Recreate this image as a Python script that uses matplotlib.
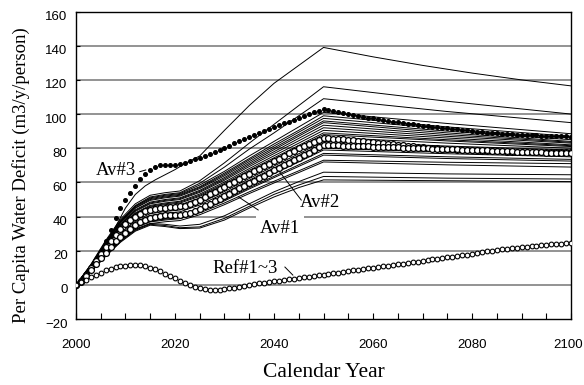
import numpy as np
import matplotlib
matplotlib.use("Agg")
import matplotlib.pyplot as plt
from matplotlib.transforms import ScaledTranslation

plt.rcParams['font.family'] = ['Liberation Sans', 'DejaVu Sans']

years = np.arange(2000, 2101)

# marker series, one value per year 2000..2100
av3 = [0, 3, 6.5, 10.5, 15, 20, 25.5, 32, 39, 45,
       50, 54, 58, 62, 65, 67.5, 69, 70, 70.5, 70.5,
       70.5, 71, 71.5, 72.5, 73.5, 74.5, 75.5, 76.7, 78, 79.2,
       80.4, 81.6, 82.8, 84, 85.2, 86.4, 87.6, 88.8, 90, 91.2,
       92.3, 93.4, 94.5, 95.6, 96.7, 97.8, 98.9, 100, 101, 102,
       103, 102.4, 101.8, 101.2, 100.6, 100, 99.5, 99, 98.5, 98,
       97.5, 97, 96.5, 96, 95.6, 95.2, 94.8, 94.4, 94, 93.6,
       93.2, 92.8, 92.5, 92.2, 91.9, 91.6, 91.3, 91, 90.7, 90.4,
       90.1, 89.8, 89.5, 89.2, 89, 88.8, 88.6, 88.4, 88.2, 88,
       87.8, 87.7, 87.6, 87.5, 87.4, 87.3, 87.2, 87.1, 87, 86.9,
       86.8]

av2 = [0, 2.5, 6, 10, 14, 18, 22, 26, 29.5, 32.5,
       35.5, 38, 40, 41.5, 43, 44, 44.5, 45, 45.3, 45.5,
       45.7, 46, 46.5, 47.5, 48.5, 50, 51.5, 53, 54.5, 56,
       57.5, 59, 60.5, 62, 63.5, 65, 66.5, 68, 69.5, 71,
       72.5, 74, 75.5, 77, 78.5, 80, 81.2, 82.4, 83.6, 84.8,
       86, 85.8, 85.6, 85.4, 85.2, 85, 84.7, 84.4, 84.1, 83.8,
       83.5, 83.2, 82.9, 82.6, 82.3, 82, 81.7, 81.4, 81.1, 80.8,
       80.6, 80.4, 80.2, 80, 79.8, 79.6, 79.4, 79.2, 79, 78.9,
       78.8, 78.7, 78.6, 78.5, 78.4, 78.3, 78.2, 78.1, 78, 78,
       78, 78, 78, 77.9, 77.9, 77.9, 77.9, 77.8, 77.8, 77.8,
       77.8]

av1 = [0, 2, 5, 8.5, 12, 15.5, 19, 22.5, 25.5, 28,
       30.5, 33, 35, 36.7, 38.2, 39.3, 40, 40.5, 40.8, 41,
       41, 41.2, 41.5, 42.3, 43.3, 44.5, 46, 47.5, 49, 50.5,
       52, 53.5, 55, 56.5, 58, 59.5, 61, 62.5, 64, 65.5,
       67, 68.5, 70, 71.5, 73, 74.5, 76, 77.5, 79, 80.5,
       82, 81.9, 81.8, 81.7, 81.6, 81.5, 81.4, 81.3, 81.2, 81.1,
       81, 80.9, 80.8, 80.7, 80.6, 80.5, 80.4, 80.3, 80.2, 80.1,
       80, 79.9, 79.8, 79.7, 79.6, 79.5, 79.4, 79.3, 79.2, 79.1,
       79, 78.9, 78.8, 78.7, 78.6, 78.5, 78.4, 78.3, 78.2, 78.1,
       78, 77.9, 77.8, 77.7, 77.6, 77.5, 77.4, 77.3, 77.2, 77.1,
       77]

ref = [0, 1.5, 3, 4.5, 6, 7.3, 8.5, 9.5, 10.3, 11,
       11.4, 11.7, 11.8, 11.6, 11, 10.2, 9.2, 8, 6.7, 5.3,
       3.8, 2.3, 0.9, -0.3, -1.3, -2, -2.5, -2.8, -2.9, -2.7,
       -2.4, -2, -1.6, -1.1, -0.6, -0.1, 0.4, 0.9, 1.3, 1.7,
       2.1, 2.5, 2.9, 3.3, 3.7, 4.1, 4.5, 4.9, 5.3, 5.7,
       6.1, 6.5, 6.9, 7.3, 7.7, 8.1, 8.5, 8.9, 9.3, 9.7,
       10.1, 10.5, 10.9, 11.3, 11.7, 12.1, 12.5, 12.9, 13.3, 13.7,
       14.1, 14.5, 15, 15.4, 15.8, 16.2, 16.6, 17, 17.4, 17.8,
       18.3, 18.8, 19.2, 19.6, 20, 20.4, 20.8, 21.2, 21.5, 21.8,
       22.1, 22.4, 22.7, 23, 23.3, 23.5, 23.7, 23.9, 24.1, 24.3,
       24.4]

# highest single run
top_years = [2000, 2002, 2004, 2006, 2008, 2010, 2012, 2014, 2016, 2018, 2020, 2022,
             2025, 2030, 2035, 2040, 2045, 2050, 2060, 2070, 2080, 2090, 2100]
top_run = [0, 5, 11, 21, 34, 45, 53, 58, 61.5, 64.5, 67.5, 71,
           75.5, 90.5, 105, 118, 128.5, 139, 133.5, 128.5, 124, 120, 116.5]

# the other runs
run_years = [2000, 2003, 2006, 2009, 2012, 2015, 2018, 2021, 2025, 2030, 2035, 2040, 2045, 2050, 2075, 2100]
runs = [
    [0, 12, 26, 38.5, 47.5, 52.5, 54, 55, 61, 71.5, 83, 94, 105, 116, 107.5, 100],
    [0, 11.5, 25.5, 37.5, 46.5, 51.5, 53, 54, 59.5, 69, 79.5, 89, 99, 109, 101.5, 95],
    [0, 11.5, 25, 37.5, 46, 51, 52.5, 53.5, 58.5, 66.5, 75.5, 84, 92.5, 101, 94.5, 88.5],
    [0, 11.5, 25, 37, 46, 50.5, 52, 53, 57.5, 65.5, 74, 82.5, 90.5, 99, 92.5, 87],
    [0, 11.3, 24.7, 36.6, 45.3, 50, 51.5, 52.5, 57, 64.7, 73.2, 81.3, 89.4, 97.5, 91.3, 86],
    [0, 11.2, 24.5, 36.2, 44.9, 49.5, 51, 52, 56.4, 63.9, 72.2, 80.2, 88.1, 96, 90, 85],
    [0, 11, 24, 35.5, 44, 48.5, 50, 51, 55.4, 62.9, 71.2, 79.2, 87.1, 95, 89, 84],
    [0, 10.9, 23.8, 35.1, 43.6, 48, 49.5, 50.5, 54.8, 62.1, 70.3, 78, 85.8, 93.5, 88, 83.5],
    [0, 10.8, 23.5, 34.8, 43.1, 47.5, 49, 50, 54.2, 61.3, 69.3, 76.9, 84.4, 92, 87, 83],
    [0, 10.6, 23, 34.1, 42.2, 46.6, 48, 49, 53.2, 60.2, 68.1, 75.6, 83, 90.5, 86, 82],
    [0, 10.5, 22.8, 33.7, 41.8, 46.1, 47.5, 48.5, 52.5, 59.4, 67.1, 74.4, 81.7, 89, 85, 81.5],
    [0, 10.3, 22.6, 33.4, 41.4, 45.6, 47, 47.9, 51.9, 58.7, 66.3, 73.6, 80.8, 88, 84.3, 81],
    [0, 10.1, 22.1, 32.7, 40.5, 44.6, 46, 46.9, 50.9, 57.6, 65.1, 72.2, 79.4, 86.5, 83, 80],
    [0, 9.5, 20.6, 30.5, 37.8, 41.7, 43, 43.9, 47.9, 54.7, 62.3, 69.6, 76.8, 84, 81.3, 79],
    [0, 9.2, 20.2, 29.8, 37, 40.7, 42, 42.8, 46.8, 53.7, 61.3, 68.5, 75.8, 83, 80, 77],
    [0, 8.8, 19.2, 28.4, 35.2, 38.8, 40, 40.8, 44.7, 51.4, 58.8, 65.9, 72.9, 80, 77.8, 76],
    [0, 8.7, 19, 28, 34.8, 38.3, 39.5, 40.3, 44.2, 50.7, 58.1, 65.1, 72, 79, 76.8, 75],
    [0, 8.6, 18.7, 27.7, 34.3, 37.8, 39, 39.8, 43.5, 49.8, 56.9, 63.6, 70.3, 77, 75, 73.5],
    [0, 8.5, 18.5, 27.3, 33.9, 37.3, 38.5, 39.3, 43, 49.2, 56.2, 62.8, 69.4, 76, 74, 72.5],
    [0, 8.4, 18.2, 27, 33.4, 36.9, 38, 38.8, 42.2, 48, 54.5, 60.7, 66.8, 73, 71.8, 71],
    [0, 8.1, 17.8, 26.3, 32.6, 35.9, 37, 37.7, 41.1, 47, 53.5, 59.7, 65.8, 72, 70.3, 69],
    [0, 8, 17.5, 26, 32.5, 36, 35.5, 34.5, 35.5, 40.5, 47.5, 54.5, 60.5, 66, 65, 64.5],
    [0, 7.8, 17, 25.5, 32, 35.5, 34.8, 33.5, 34, 39, 46, 53, 58.5, 63.5, 62.5, 62],
    [0, 7.6, 16.8, 25, 31.5, 35, 34.2, 33, 33.3, 38, 45, 51.5, 57, 61.5, 61, 60.5],
]

xticks = [2000, 2020, 2040, 2060, 2080, 2100]
yticks = [-20, 0, 20, 40, 60, 80, 100, 120, 140, 160]

fig = plt.figure(figsize=(5.84, 3.85), dpi=100)
ax = fig.add_axes([0.130, 0.171, 0.848, 0.799])

for v in yticks[1:-1]:
    ax.axhline(v, color='#808080', lw=1.2, zorder=0.5)

ax.plot(top_years, top_run, color='black', lw=0.7, zorder=3)
for r in runs:
    ax.plot(run_years, r, color='black', lw=0.7, zorder=3)

ax.plot(years, av3, ls='none', marker='o', ms=2.6, mfc='black', mec='black', zorder=4)
ax.plot(years, av2, ls='none', marker='o', ms=4.2, mfc='white', mec='black', mew=0.9, zorder=4)
ax.plot(years, av1, ls='none', marker='o', ms=4.2, mfc='white', mec='black', mew=0.9, zorder=4)
ax.plot(years, ref, ls='none', marker='o', ms=3.4, mfc='white', mec='black', mew=0.8, zorder=4)

serif = ['Liberation Serif', 'DejaVu Serif']
ax.text(2008.1, 66.7, 'Av#3', family=serif, fontsize=13.5, ha='center', va='center', zorder=5)
ax.plot([2012.9, 2014.1], [66.3, 67.3], color='black', lw=0.7, zorder=5)
ax.text(2049.3, 48, 'Av#2', family=serif, fontsize=13.5, ha='center', va='center', zorder=5)
ax.plot([2045.5, 2041], [49.7, 66.7], color='black', lw=0.7, zorder=5)
ax.text(2041.2, 33.3, 'Av#1', family=serif, fontsize=13.5, ha='center', va='center', zorder=2,
        bbox=dict(facecolor='white', edgecolor='none', pad=3))
ax.plot([2036.8, 2032.8], [43.9, 51.6], color='black', lw=0.7, zorder=5)
ax.text(2034.2, 9.4, 'Ref#1~3', family=serif, fontsize=13.5, ha='center', va='center', zorder=5)
ax.plot([2042.2, 2043.8], [10.5, 5.8], color='black', lw=0.7, zorder=5)

ax.set_xlim(2000, 2100)
ax.set_ylim(-20, 160)
ax.set_xticks(xticks)
ax.set_xticks(np.arange(2000, 2101, 5), minor=True)
ax.set_yticks(yticks)
ax.tick_params(axis='x', which='both', direction='in', length=4, width=0.8, top=False,
               labelsize=9.5, pad=14)
ax.tick_params(axis='y', which='both', direction='in', length=3, width=0.8, right=False,
               labelsize=9.5, pad=6)
for s in ax.spines.values():
    s.set_linewidth(1.0)

down = ScaledTranslation(0, -4 / 100, fig.dpi_scale_trans)
for lab in ax.get_yticklabels():
    lab.set_transform(lab.get_transform() + down)
last = ax.get_xticklabels()[-1]
last.set_transform(last.get_transform() + ScaledTranslation(-3 / 100, 0, fig.dpi_scale_trans))

ax.set_xlabel('Calendar Year', family=serif, fontsize=15.5, labelpad=9)
ax.set_ylabel('Per Capita Water Deficit (m3/y/person)', family=serif, fontsize=13.5)
ax.yaxis.set_label_coords(-0.093, 0.468)

fig.savefig('out.png', dpi=100)
